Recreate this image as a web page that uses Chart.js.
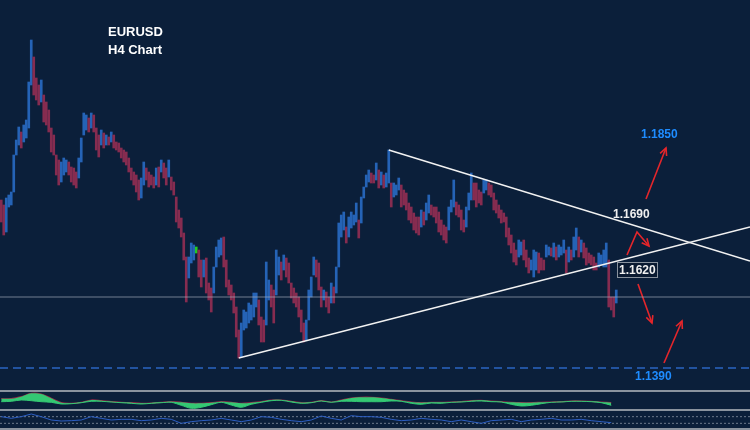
<!DOCTYPE html>
<html>
<head>
<meta charset="utf-8">
<script src="https://cdn.jsdelivr.net/npm/chart.js@4.4.1/dist/chart.umd.min.js"></script>
<style>
  html, body { margin: 0; padding: 0; background: #0b1f3a; }
  #wrap { position: relative; width: 750px; height: 430px; overflow: hidden; background: #0b1f3a;
          font-family: "Liberation Sans", Arial, sans-serif; }
  canvas { position: absolute; left: 0; }
  .sep { position: absolute; left: 0; width: 750px; background: #8a939e; }
  .lbl { position: absolute; font-weight: bold; font-size: 12px; line-height: 14px; white-space: nowrap; }
  .title { position: absolute; left: 108px; font-weight: bold; font-size: 13px; line-height: 15px; color: #fff; }
</style>
</head>
<body>
<div id="wrap">
  <canvas id="priceChart" width="750" height="390" style="top:0"></canvas>
  <div class="sep" style="top:390px;height:2px"></div>
  <canvas id="macdChart" width="750" height="17" style="top:392px"></canvas>
  <div class="sep" style="top:409px;height:2px"></div>
  <canvas id="oscChart" width="750" height="17" style="top:411px"></canvas>
  <div class="sep" style="top:428px;height:2px"></div>

  <div class="title" style="top:24px">EURUSD</div>
  <div class="title" style="top:42px">H4 Chart</div>
  <div class="lbl" style="left:641px;top:127px;color:#1e8cff">1.1850</div>
  <div class="lbl" style="left:613px;top:207px;color:#f0f0f0">1.1690</div>
  <div class="lbl" style="left:617px;top:262px;color:#f0f0f0;border:1px solid #8a939e;padding:0 1px;background:#0a1a31">1.1620</div>
  <div class="lbl" style="left:635px;top:369px;color:#1e8cff">1.1390</div>
</div>
<script>
// EURUSD H4 candles, one entry per bar (high / low)
const highs = [
  1.1726,1.1716,1.1730,1.1736,1.1742,1.1816,1.1846,1.1872,1.1862,1.1876,
  1.1886,1.1962,1.2046,1.2012,1.1970,1.1956,1.1966,1.1936,1.1922,1.1906,
  1.1870,1.1856,1.1816,1.1806,1.1802,1.1810,1.1806,1.1802,1.1792,1.1790,
  1.1782,1.1810,1.1850,1.1900,1.1896,1.1890,1.1900,1.1896,1.1870,1.1856,
  1.1866,1.1860,1.1856,1.1852,1.1862,1.1856,1.1842,1.1840,1.1830,1.1826,
  1.1822,1.1810,1.1790,1.1782,1.1776,1.1766,1.1770,1.1802,1.1790,1.1782,
  1.1776,1.1772,1.1790,1.1792,
  1.1806,1.1800,1.1790,1.1806,1.1772,1.1762,1.1732,1.1706,1.1690,1.1660,
  1.1612,1.1612,1.1640,1.1636,1.1632,1.1626,1.1606,1.1606,1.1610,1.1560,
  1.1550,1.1592,1.1632,1.1646,1.1650,1.1652,1.1606,1.1566,1.1556,1.1540,
  1.1512,1.1466,1.1480,1.1506,1.1502,1.1520,1.1516,1.1540,1.1540,1.1526,
  1.1492,1.1486,1.1602,1.1566,1.1556,1.1546,1.1626,1.1612,1.1602,1.1616,
  1.1610,1.1600,1.1560,1.1550,1.1540,1.1532,1.1506,1.1480,1.1486,1.1546,
  1.1572,1.1612,1.1606,1.1600,
  1.1552,1.1546,1.1542,1.1532,1.1560,1.1552,1.1592,1.1680,1.1696,1.1702,
  1.1672,1.1692,1.1702,1.1696,1.1720,1.1686,1.1732,1.1752,1.1776,1.1786,
  1.1780,1.1776,1.1800,1.1786,1.1782,1.1776,1.1780,1.1826,1.1760,1.1760,
  1.1756,1.1770,1.1756,1.1746,1.1740,1.1720,1.1712,1.1700,1.1692,1.1692,
  1.1706,1.1702,1.1720,1.1736,1.1716,1.1712,1.1712,1.1702,1.1686,1.1676,
  1.1672,1.1712,1.1726,1.1766,1.1722,1.1716,1.1706,1.1686,1.1712,1.1740,
  1.1780,
  1.1760,1.1760,1.1746,1.1742,1.1766,1.1766,1.1760,1.1756,1.1740,1.1726,
  1.1716,1.1706,1.1700,1.1692,1.1670,1.1656,1.1640,1.1626,1.1646,1.1642,
  1.1646,1.1626,1.1610,1.1606,1.1626,1.1622,1.1620,1.1610,1.1606,1.1636,
  1.1632,1.1630,1.1640,1.1632,1.1636,1.1632,1.1646,1.1626,1.1632,1.1626,
  1.1652,1.1670,1.1652,1.1646,1.1640,1.1630,1.1620,1.1616,1.1612,1.1600,
  1.1620,1.1616,1.1626,1.1640,1.1606,1.1532,1.1532,1.1546
];
const lows = [
  1.1682,1.1656,1.1662,1.1712,1.1716,1.1742,1.1816,1.1836,1.1830,1.1842,
  1.1850,1.1870,1.1956,1.1936,1.1926,1.1916,1.1922,1.1882,1.1876,1.1862,
  1.1822,1.1816,1.1776,1.1756,1.1762,1.1776,1.1782,1.1776,1.1762,1.1756,
  1.1750,1.1770,1.1802,1.1856,1.1866,1.1862,1.1870,1.1862,1.1826,1.1812,
  1.1836,1.1830,1.1836,1.1836,1.1842,1.1830,1.1826,1.1822,1.1810,1.1802,
  1.1796,1.1782,1.1766,1.1756,1.1742,1.1726,1.1730,1.1756,1.1766,1.1752,
  1.1756,1.1750,1.1756,1.1752,
  1.1782,1.1770,1.1756,1.1772,1.1746,1.1736,1.1682,1.1670,1.1652,1.1606,
  1.1522,1.1570,1.1600,1.1606,1.1620,1.1572,1.1552,1.1572,1.1540,1.1526,
  1.1502,1.1540,1.1592,1.1612,1.1616,1.1592,1.1552,1.1536,1.1526,1.1500,
  1.1452,1.1410,1.1412,1.1466,1.1470,1.1480,1.1486,1.1492,1.1512,1.1476,
  1.1442,1.1442,1.1476,1.1526,1.1512,1.1480,1.1536,1.1576,1.1566,1.1586,
  1.1572,1.1560,1.1530,1.1520,1.1512,1.1492,1.1462,1.1442,1.1446,1.1486,
  1.1532,1.1576,1.1572,1.1546,
  1.1512,1.1526,1.1512,1.1500,1.1520,1.1520,1.1540,1.1592,1.1652,1.1666,
  1.1640,1.1652,1.1670,1.1676,1.1682,1.1650,1.1680,1.1730,1.1752,1.1762,
  1.1760,1.1760,1.1766,1.1750,1.1756,1.1750,1.1752,1.1760,1.1712,1.1732,
  1.1736,1.1746,1.1712,1.1716,1.1706,1.1686,1.1680,1.1666,1.1660,1.1656,
  1.1672,1.1676,1.1686,1.1700,1.1696,1.1692,1.1680,1.1662,1.1656,1.1646,
  1.1640,1.1666,1.1702,1.1712,1.1696,1.1692,1.1666,1.1662,1.1672,1.1706,
  1.1726,
  1.1726,1.1712,1.1720,1.1716,1.1740,1.1746,1.1736,1.1732,1.1706,1.1700,
  1.1690,1.1680,1.1682,1.1652,1.1636,1.1620,1.1602,1.1596,1.1612,1.1616,
  1.1606,1.1592,1.1580,1.1586,1.1572,1.1586,1.1580,1.1586,1.1586,1.1612,
  1.1616,1.1614,1.1612,1.1606,1.1612,1.1616,1.1620,1.1580,1.1602,1.1606,
  1.1612,1.1626,1.1612,1.1622,1.1610,1.1596,1.1600,1.1596,1.1586,1.1586,
  1.1592,1.1596,1.1592,1.1592,1.1512,1.1506,1.1492,1.1520
];
const greenBars = [78];

// trend lines and levels: [bar index, price]
const upperTrend = [[155, 1.1826], [299.5, 1.1604]];
const lowerTrend = [[95, 1.1410], [299.5, 1.1672]];
const greyLevel = 1.1532;
const supportLevel = 1.1390;

// scenario arrows: [bar index, price]
const arrowUp1 = [[257.9, 1.1728], [265.9, 1.1830]];
const arrowZig = [[250.3, 1.1616], [254.3, 1.1662], [259.1, 1.1634]];
const arrowDown = [[254.7, 1.1558], [260.3, 1.1480]];
const arrowUp2 = [[265.1, 1.1400], [272.3, 1.1484]];

// indicators, one sample every 4 bars
const indStep = 4;
const signalLine = [
  2.3,2.3,4.3,7.7,7,2.7,-1.7,-2.3,-1.3,1,
  0.3,-0.7,-1.3,-1.7,-2.3,-2,-1.3,-0.7,-1.3,-2.3,
  -2.3,-1.7,-0.7,-1.3,-2.3,-1.7,-0.7,1,1,-0.3,
  -1.7,-1.3,0.3,-1,1,3,3.7,3.7,3,1.7,
  0.3,-1,-1.7,-1.3,-1.3,-1,-0.7,0.3,0.7,0,
  -0.7,-1.3,-1.7,-1.7,-1.3,-1,-0.7,0,0,-0.3,
  -1,-1.7
];
const mainLine = [
  -0.7,-0.3,1,0.3,-0.7,-1.3,-3,-2.7,-1.7,-0.3,
  -0.3,-1,-1.7,-2.3,-3,-2.3,-1.7,-1.3,-4.3,-7.3,
  -6.3,-3.7,-1.3,-4,-6.3,-3.3,-1.3,0.3,0.7,-1,
  -2.3,-1.7,0,-1.3,-0.3,-0.3,-0.7,-0.7,-0.7,0,
  -0.3,-2.3,-3.3,-2,-2.3,-1.3,-1,-0.3,0,-0.7,
  -1,-3.3,-5,-4.3,-2.7,-1.3,-1,-0.3,-0.3,-0.7,
  -1.7,-4.3
];
const oscLine = [
  70,60,70,86,70,50,44,46,50,70,
  60,50,54,54,46,50,60,54,30,40,
  46,50,60,50,40,50,70,66,54,46,
  40,50,74,60,50,76,70,70,66,54,
  46,50,60,54,50,40,50,40,30,46,
  50,54,40,50,54,60,50,50,54,46,
  40,34
];
const oscLevels = [70, 30];

if (highs.length !== lows.length) throw new Error('candle arrays differ: ' + highs.length + ' vs ' + lows.length);

const blue = '#2563b6';
const red = '#862c50';
const xMin = -0.5, xMax = 299.5;

const pts = arr => arr.map(p => ({ x: p[0], y: p[1] }));

const candleData = highs.map((h, i) => ({ x: i, y: [lows[i], h] }));
const candleColors = highs.map((h, i) => {
    if (greenBars.includes(i)) return '#22cc22';
    if (i === 0) return red;
    const mid = (h + lows[i]) / 2;
    const prev = (highs[i - 1] + lows[i - 1]) / 2;
    return mid >= prev ? blue : red;
});

function lineSet(data, color, width, extra) {
    return Object.assign({
        type: 'line', data: data, borderColor: color, borderWidth: width,
        pointRadius: 0, fill: false, tension: 0, order: 0
    }, extra || {});
}

const arrowHeads = {
    id: 'arrowHeads',
    afterDatasetsDraw(chart) {
        const ctx = chart.ctx;
        chart.data.datasets.forEach((ds, di) => {
            if (!ds.arrow) return;
            const els = chart.getDatasetMeta(di).data;
            const a = els[els.length - 2], b = els[els.length - 1];
            const ang = Math.atan2(b.y - a.y, b.x - a.x);
            const len = 8;
            ctx.save();
            ctx.strokeStyle = ds.borderColor;
            ctx.lineWidth = 1.6;
            ctx.beginPath();
            ctx.moveTo(b.x - len * Math.cos(ang - 0.45), b.y - len * Math.sin(ang - 0.45));
            ctx.lineTo(b.x, b.y);
            ctx.lineTo(b.x - len * Math.cos(ang + 0.45), b.y - len * Math.sin(ang + 0.45));
            ctx.stroke();
            ctx.restore();
        });
    }
};

const hiddenX = { type: 'linear', min: xMin, max: xMax, display: false, offset: false };
const baseOptions = (yMin, yMax) => ({
    responsive: false,
    animation: false,
    devicePixelRatio: 1,
    layout: { padding: 0 },
    plugins: { legend: { display: false }, tooltip: { enabled: false } },
    scales: { x: hiddenX, y: { min: yMin, max: yMax, display: false } }
});

const arrowRed = '#e5262b';

new Chart(document.getElementById('priceChart').getContext('2d'), {
    type: 'bar',
    data: {
        datasets: [
            lineSet(pts(upperTrend), '#f2f2f2', 1.6),
            lineSet(pts(lowerTrend), '#f2f2f2', 1.6),
            lineSet([{ x: xMin, y: greyLevel }, { x: xMax, y: greyLevel }], 'rgba(170,180,192,0.65)', 1),
            lineSet([{ x: xMin, y: supportLevel }, { x: xMax, y: supportLevel }], '#2b66c2', 1.5, { borderDash: [8, 5] }),
            lineSet(pts(arrowUp1), arrowRed, 1.6, { arrow: true }),
            lineSet(pts(arrowZig), arrowRed, 1.6, { arrow: true }),
            lineSet(pts(arrowDown), arrowRed, 1.6, { arrow: true }),
            lineSet(pts(arrowUp2), arrowRed, 1.6, { arrow: true }),
            {
                type: 'bar',
                data: candleData,
                backgroundColor: candleColors,
                borderWidth: 0,
                barThickness: 2,
                order: 10
            }
        ]
    },
    options: baseOptions(1.1346, 1.2126),
    plugins: [arrowHeads]
});

new Chart(document.getElementById('macdChart').getContext('2d'), {
    type: 'line',
    data: {
        datasets: [
            lineSet(mainLine.map((v, k) => ({ x: k * indStep, y: v })), '#34c873', 1,
                { fill: '+1', backgroundColor: '#34c873', tension: 0.3 }),
            lineSet(signalLine.map((v, k) => ({ x: k * indStep, y: v })), '#9a2a48', 1.2, { tension: 0.3 })
        ]
    },
    options: baseOptions(-8, 9)
});

new Chart(document.getElementById('oscChart').getContext('2d'), {
    type: 'line',
    data: {
        datasets: [
            lineSet(oscLine.map((v, k) => ({ x: k * indStep, y: v })), '#2d5fc4', 1),
            lineSet([{ x: xMin, y: oscLevels[0] }, { x: xMax, y: oscLevels[0] }], 'rgba(150,160,172,0.7)', 1, { borderDash: [2, 2] }),
            lineSet([{ x: xMin, y: oscLevels[1] }, { x: xMax, y: oscLevels[1] }], 'rgba(150,160,172,0.7)', 1, { borderDash: [2, 2] })
        ]
    },
    options: baseOptions(2, 104)
});
</script>
</body>
</html>
